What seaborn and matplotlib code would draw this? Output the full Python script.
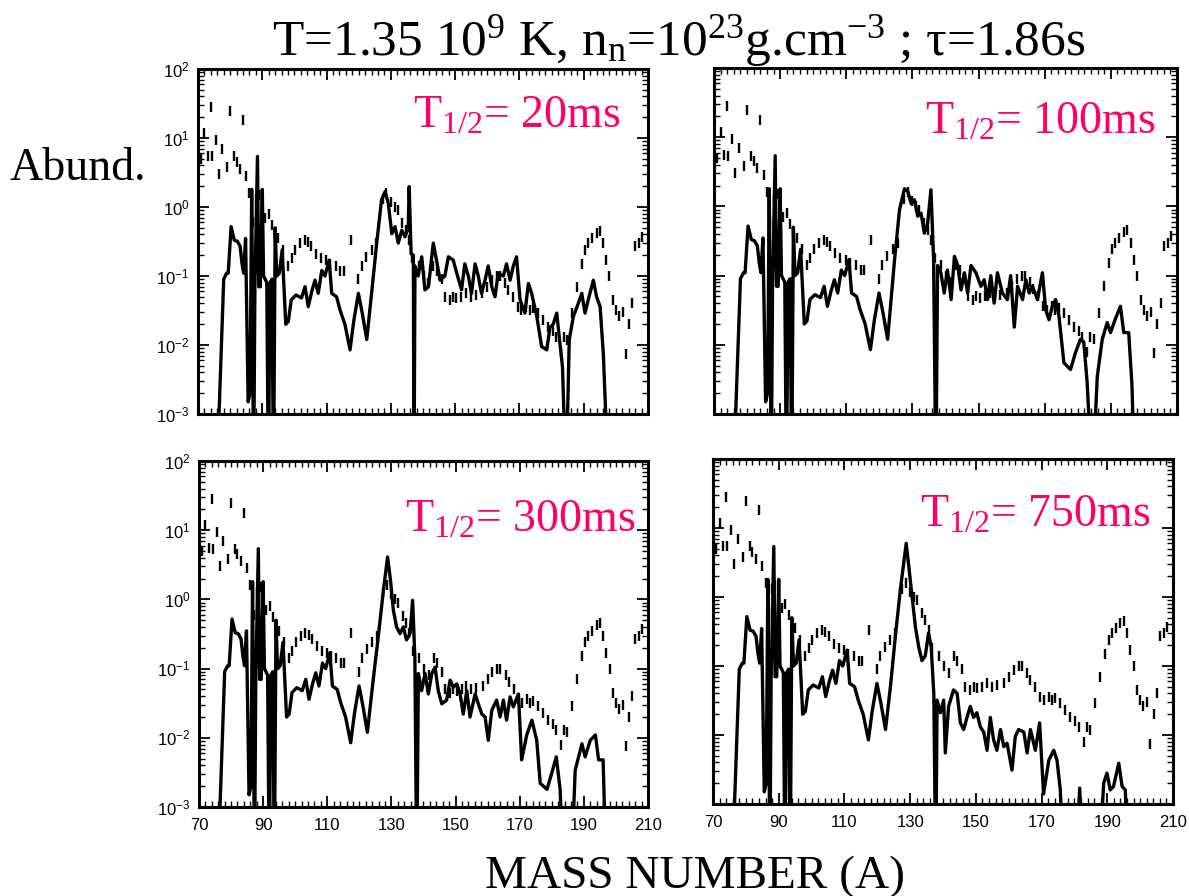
import matplotlib
matplotlib.use("Agg")
import matplotlib.pyplot as plt
import numpy as np
import pandas as pd
import seaborn as sns
from matplotlib.ticker import FixedLocator, LogLocator, FuncFormatter, NullFormatter, MultipleLocator

# ---------------- data ----------------
# solid line, region common to all four panels (A < 123)
LOW_A = [75.8, 78.0, 78.9, 79.4, 80.3, 81.3, 82.2, 83.1, 83.7, 84.2, 84.8, 85.6, 86.2, 86.7, 86.9,
         87.3, 87.7, 88.5, 88.9, 89.4, 90.0, 90.4, 90.9, 91.4, 91.9, 92.4, 93.0, 93.5, 94.0, 94.5,
         95.3, 96.2, 97.3, 98.1, 99.0, 100.5, 102.2, 103.3, 104.3, 105.4, 106.4, 107.4, 108.5,
         109.5, 110.8, 111.6, 113.1, 114.2, 115.7, 117.3, 118.5, 119.9, 121.1, 122.5]
LOW_Y = [1e-4, 0.09, 0.11, 0.11, 0.52, 0.33, 0.32, 0.27, 0.15, 0.11, 0.35, 0.0015, 0.002, 1.8, 0.08,
         1e-4, 0.07, 5.4, 0.07, 0.07, 1.8, 0.1, 0.09, 0.08, 1e-4, 0.08, 0.09, 1e-4, 0.5, 0.1,
         0.11, 0.24, 0.02, 0.022, 0.045, 0.053, 0.048, 0.07, 0.036, 0.06, 0.087, 0.056, 0.12,
         0.1, 0.17, 0.056, 0.05, 0.032, 0.02, 0.0085, 0.023, 0.056, 0.029, 0.012]

# panel-specific part of the solid line (A >= 124)
A_20 = [124.0, 125.6, 127.1, 128.2, 129.2, 130.3, 131.3, 132.3, 133.4, 134.4, 135.4, 135.7, 136.3,
        137.0, 137.2, 137.5, 138.5, 139.6, 140.6, 141.7, 143.2, 144.2, 145.3, 146.8, 147.9, 149.4,
        150.5, 152.0, 153.0, 154.1, 155.1, 156.2, 157.2, 158.2, 159.3, 160.3, 161.4, 162.4, 163.4,
        165.0, 166.0, 167.1, 168.1, 169.1, 170.2, 171.7, 172.8, 173.8, 175.4, 176.9, 178.5, 179.5,
        180.5, 181.6, 182.4, 183.4, 184.5, 185.5, 186.8, 188.3, 189.4, 190.4, 191.4, 193.0, 194.0,
        195.1, 196.1, 197.7]
Y_20 = [0.056, 0.3, 1.26, 1.67, 1.13, 0.41, 0.52, 0.3, 0.46, 0.37, 0.5, 1.97, 0.21,
        0.2, 1e-4, 0.14, 0.1, 0.19, 0.063, 0.07, 0.3, 0.17, 0.087, 0.1, 0.19, 0.17,
        0.11, 0.063, 0.15, 0.1, 0.056, 0.15, 0.1, 0.056, 0.087, 0.14, 0.07, 0.05, 0.11,
        0.1, 0.15, 0.087, 0.14, 0.19, 0.045, 0.029, 0.078, 0.056, 0.026, 0.0095, 0.0085, 0.018,
        0.02, 0.029, 0.013, 0.0048, 1e-4, 0.012, 0.026, 0.04, 0.056, 0.029, 0.045, 0.087, 0.05,
        0.036, 0.0075, 1e-4]

A_100 = [124.6, 126.1, 127.6, 128.6, 129.6, 130.6, 131.6, 132.6, 133.6, 134.6, 135.6, 136.4, 137.1,
         137.6, 138.6, 139.6, 140.6, 141.7, 142.7, 143.7, 144.7, 145.7, 146.7, 147.7, 149.2, 150.7,
         151.7, 152.7, 153.7, 154.7, 155.7, 157.2, 158.7, 159.7, 160.8, 161.8, 163.3, 164.3, 165.3,
         166.3, 167.8, 169.3, 170.3, 171.3, 172.3, 173.3, 174.3, 175.8, 177.8, 179.3, 180.8, 181.8,
         182.8, 184.4, 185.9, 187.4, 188.9, 189.9, 191.4, 192.9, 193.9, 195.4, 196.4, 197.2]
Y_100 = [0.17, 0.9, 1.8, 1.65, 1.1, 1.25, 0.72, 0.8, 0.41, 0.57, 1.74, 0.17, 1e-4,
         0.14, 0.11, 0.056, 0.12, 0.045, 0.19, 0.14, 0.062, 0.11, 0.056, 0.14, 0.11, 0.07,
         0.087, 0.045, 0.1, 0.04, 0.11, 0.056, 0.045, 0.1, 0.018, 0.07, 0.045, 0.087, 0.056,
         0.07, 0.045, 0.11, 0.032, 0.023, 0.036, 0.045, 0.026, 0.0055, 0.0044, 0.0077, 0.012, 0.011,
         0.003, 1e-4, 0.0035, 0.012, 0.021, 0.015, 0.024, 0.036, 0.015, 0.015, 0.0025, 1e-4]

A_300 = [124.3, 125.9, 127.5, 128.8, 129.7, 130.6, 131.6, 132.7, 133.7, 134.7, 135.8, 136.6, 137.3,
         137.9, 138.4, 139.4, 140.5, 141.5, 142.6, 143.6, 144.6, 145.7, 147.2, 148.3, 149.3, 150.4,
         151.4, 152.4, 153.5, 154.5, 156.1, 157.1, 158.2, 159.2, 160.2, 161.3, 162.8, 163.9, 164.9,
         165.9, 167.0, 168.0, 169.6, 170.6, 172.2, 173.8, 175.3, 176.4, 178.5, 180.0, 181.4, 182.6,
         183.7, 186.0, 187.3, 189.4, 190.4, 192.0, 193.6, 194.6, 196.0, 197.0]
Y_300 = [0.068, 0.29, 1.35, 4.1, 1.9, 0.7, 0.4, 0.32, 0.4, 0.26, 0.32, 0.97, 0.15,
         1e-4, 0.085, 0.048, 0.085, 0.043, 0.085, 0.105, 0.048, 0.031, 0.035, 0.068, 0.054, 0.06,
         0.043, 0.022, 0.048, 0.02, 0.043, 0.031, 0.022, 0.02, 0.0092, 0.025, 0.035, 0.02, 0.035,
         0.018, 0.039, 0.028, 0.043, 0.0048, 0.011, 0.018, 0.0092, 0.0022, 0.0018, 0.0031, 0.0053, 0.0018,
         1e-4, 1e-4, 0.0034, 0.0082, 0.0053, 0.0092, 0.011, 0.0048, 0.0048, 1e-4]

A_750 = [124.0, 125.5, 127.0, 128.8, 129.6, 130.6, 131.6, 132.6, 133.6, 134.6, 135.6, 136.4, 137.2,
         137.8, 138.2, 139.2, 140.2, 140.7, 141.7, 143.2, 144.3, 145.3, 146.3, 147.3, 148.3, 149.3,
         150.3, 151.4, 152.4, 153.4, 154.4, 155.4, 156.4, 157.5, 158.5, 159.5, 161.0, 162.0, 163.0,
         164.6, 165.6, 166.6, 168.1, 169.4, 170.6, 172.2, 173.7, 174.7, 175.7, 176.7, 180.3, 181.6,
         182.6, 187.4, 188.9, 189.9, 190.9, 191.9, 193.5, 194.5, 195.5, 196.2]
Y_750 = [0.05, 0.27, 1.26, 6.0, 2.75, 1.0, 0.37, 0.19, 0.12, 0.14, 0.3, 0.19, 0.04,
         1e-4, 0.032, 0.021, 0.032, 0.0055, 0.026, 0.045, 0.04, 0.015, 0.012, 0.018, 0.026, 0.018,
         0.021, 0.013, 0.011, 0.006, 0.018, 0.0085, 0.006, 0.012, 0.0068, 0.0076, 0.0031, 0.0095, 0.012,
         0.011, 0.0055, 0.012, 0.006, 0.015, 0.0014, 0.0043, 0.006, 0.0043, 0.0016, 1e-4, 1e-4, 0.0017,
         1e-4, 1e-4, 0.002, 0.0028, 0.0016, 0.0018, 0.0039, 0.0018, 0.0016, 1e-4]

# solar r-process abundances (short dashes), same in every panel
SOLAR_A = [71, 72, 73, 74, 74.3, 75.5, 76.5, 77.5, 79, 80, 81.2, 82, 83, 84, 85, 86, 87, 88, 89, 90,
           91, 92, 93, 94, 95, 96.6, 98.1, 99.1, 100.1, 101.7, 103.2, 104.2, 105.2, 106.7, 108.2,
           109.8, 111.2, 112.8, 114.3, 115.3, 117.5, 119.9, 120.9, 122.4, 124, 125.5, 127.5, 128.6,
           130, 131.2, 132.1, 133.6, 134.6, 135.6, 136.7, 138.7, 140.2, 141.7, 143.2, 144.3, 145.8,
           146.8, 148.3, 149.3, 150.3, 151.9, 153.4, 154.9, 156.4, 158.5, 160, 161.5, 163, 164,
           165.6, 166.6, 168.1, 169.6, 170.6, 172.2, 173.2, 174.2, 175.7, 177.2, 178.8, 180.3, 181.3,
           182.8, 183.8, 184.8, 186.4, 187.9, 189.4, 190.4, 191.4, 192.5, 194, 195, 196, 197, 198,
           199, 200, 201, 202.1, 203.1, 204.1, 205.1, 206.1, 207.2, 208.2]
SOLAR_Y = [5.0, 12, 5.5, 28, 5.4, 9.4, 3.0, 7.0, 3.8, 25, 5.4, 4.5, 3.6, 18, 2.8, 1.6, 0.6, 1.3, 1.5, 0.9,
           0.7, 0.8, 0.55, 0.4, 0.35, 0.24, 0.14, 0.18, 0.24, 0.3, 0.33, 0.31, 0.27, 0.21, 0.18,
           0.17, 0.15, 0.14, 0.12, 0.12, 0.33, 0.09, 0.14, 0.19, 0.24, 0.3, 1.3, 1.6,
           1.2, 1.0, 0.9, 0.58, 0.46, 0.33, 0.18, 0.14, 0.1, 0.08, 0.14, 0.12, 0.09,
           0.05, 0.045, 0.05, 0.048, 0.05, 0.056, 0.05, 0.053, 0.056, 0.07, 0.088, 0.1, 0.1,
           0.08, 0.063, 0.05, 0.036, 0.032, 0.036, 0.032, 0.034, 0.029, 0.023, 0.018, 0.016, 0.013,
           0.008, 0.013, 0.012, 0.029, 0.07, 0.15, 0.24, 0.3, 0.35, 0.42, 0.45, 0.3, 0.17, 0.1,
           0.045, 0.032, 0.026, 0.03, 0.0075, 0.02, 0.04, 0.27, 0.3, 0.37]

LABELS = ["20ms", "100ms", "300ms", "750ms"]
X_TICKS = [70, 90, 110, 130, 150, 170, 190, 210]
Y_TICKS = [1e-3, 1e-2, 1e-1, 1e0, 1e1, 1e2]

# ---------------- style ----------------
sns.set_theme(style="ticks")
plt.rcParams["font.family"] = ["Liberation Serif", "DejaVu Serif"]
plt.rcParams["mathtext.fontset"] = "custom"
plt.rcParams["mathtext.rm"] = "Liberation Serif"
plt.rcParams["mathtext.it"] = "Liberation Serif:italic"
plt.rcParams["mathtext.sf"] = "Liberation Sans"
plt.rcParams["mathtext.default"] = "regular"
for key in ["text.color", "axes.labelcolor", "xtick.color", "ytick.color", "axes.edgecolor"]:
    plt.rcParams[key] = "black"

W, H = 1189, 896
fig = plt.figure(figsize=(W / 100, H / 100), dpi=100)
fig.patch.set_facecolor("white")

# axes rectangles in pixels (left, top, right, bottom)
rects = [(198, 69, 648, 414), (714, 68, 1177, 414), (199, 461, 648, 807), (713, 459, 1173, 804)]
label_pos = [(413, 128), (925, 134), (405, 532), (920, 527)]
solid_parts = [(A_20, Y_20), (A_100, Y_100), (A_300, Y_300), (A_750, Y_750)]

PINK = "#FF0066"

for i, ((l, t, r, b), (pa, py), lab, (lx, ly)) in enumerate(zip(rects, solid_parts, LABELS, label_pos)):
    ax = fig.add_axes([l / W, 1 - b / H, (r - l) / W, (b - t) / H])
    ax.set_facecolor("white")
    ax.set_yscale("log")
    df = pd.DataFrame({"A": LOW_A + pa, "Y": LOW_Y + py})
    sns.lineplot(data=df, x="A", y="Y", ax=ax, color="black", linewidth=2.4,
                 sort=False, estimator=None, legend=False)
    sol = pd.DataFrame({"A": SOLAR_A, "Y": SOLAR_Y})
    sns.scatterplot(data=sol, x="A", y="Y", ax=ax, marker="|", s=45, color="black",
                    linewidth=1.7, legend=False)
    ax.set_xlim(70, 210)
    ax.set_ylim(1e-3, 1e2)
    ax.set_xlabel("")
    ax.set_ylabel("")
    ax.xaxis.set_major_locator(FixedLocator(X_TICKS))
    ax.xaxis.set_minor_locator(MultipleLocator(2))
    ax.yaxis.set_major_locator(FixedLocator(Y_TICKS))
    ax.yaxis.set_minor_locator(LogLocator(base=10, subs=np.arange(2, 10)))
    ax.yaxis.set_minor_formatter(NullFormatter())
    ax.yaxis.set_major_formatter(FuncFormatter(lambda v, p: r"$\mathsf{10^{%d}}$" % round(np.log10(v))))
    ax.tick_params(which="both", direction="in", top=True, right=True, color="black",
                   labelcolor="black")
    ax.tick_params(which="major", length=8, width=1.3)
    ax.tick_params(which="minor", length=4, width=1.0)
    ax.tick_params(axis="x", labelsize=12, labelfontfamily="Liberation Sans", pad=8,
                   labelbottom=(i >= 2))
    ax.tick_params(axis="y", labelsize=12, pad=6, labelleft=(i % 2 == 0))
    for sp in ax.spines.values():
        sp.set_linewidth(2.2)
        sp.set_color("black")
    fig.text(lx / W, 1 - ly / H, r"T$_{1/2}$= " + lab, color=PINK, fontsize=33,
             ha="left", va="baseline")

fig.text(679 / W, 1 - 55 / H,
         r"T=1.35 10$^{9}$ K, n$_{\rm n}$=10$^{23}$g.cm$^{-3}$ ; τ=1.86s",
         fontsize=37, ha="center", va="baseline", color="black")
fig.text(10 / W, 1 - 180 / H, "Abund.", fontsize=33, ha="left", va="baseline", color="black")
fig.text(695 / W, 1 - 888 / H, "MASS NUMBER (A)", fontsize=34, ha="center", va="baseline",
         color="black")

fig.savefig("out.png", dpi=100, facecolor="white")
